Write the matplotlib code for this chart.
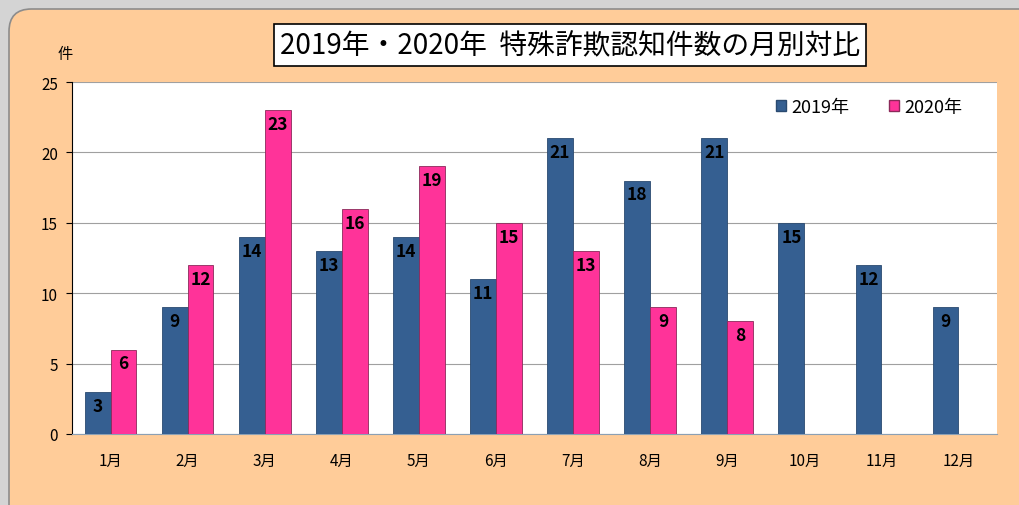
import matplotlib
matplotlib.use("Agg")
import matplotlib.pyplot as plt
from matplotlib.patches import FancyBboxPatch, Patch
import numpy as np

plt.rcParams['font.family'] = ['Noto Sans CJK JP', 'DejaVu Sans']

months = ['1月', '2月', '3月', '4月', '5月', '6月', '7月', '8月', '9月', '10月', '11月', '12月']
v2019 = [3, 9, 14, 13, 14, 11, 21, 18, 21, 15, 12, 9]
v2020 = [6, 12, 23, 16, 19, 15, 13, 9, 8]
yticks = [0, 5, 10, 15, 20, 25]
title = '2019年・2020年  特殊詐欺認知件数の月別対比'

c19 = '#355F91'
c20 = '#FF3399'
bg = '#FFCC99'

fig = plt.figure(figsize=(10.2, 5.06), dpi=100)
fig.patch.set_facecolor('#D4D4D4')

W, H = 1020, 506
box = FancyBboxPatch((9 / W, -0.05), 1.05, 1.05 - 10 / H,
                     boxstyle="round,pad=0,rounding_size=0.022",
                     transform=fig.transFigure, facecolor=bg,
                     edgecolor='#8C8C8C', linewidth=1.2, zorder=-10,
                     mutation_aspect=W / H)
fig.patches.append(box)

ax = fig.add_axes([72 / W, (506 - 435) / H, 925 / W, 352 / H])
ax.set_zorder(5)
ax.set_facecolor('white')
x = np.arange(len(months))
bw = 0.335
b1 = ax.bar(x[:len(v2019)] - bw / 2, v2019, bw, color=c19, edgecolor='#2A4A70', linewidth=0.6, zorder=3)
b2 = ax.bar(x[:len(v2020)] + bw / 2, v2020, bw, color=c20, edgecolor='#8B2A5A', linewidth=0.6, zorder=3)

for bars, vals in ((b1, v2019), (b2, v2020)):
    for r, v in zip(bars, vals):
        ax.text(r.get_x() + r.get_width() / 2, v - 0.35, str(v), ha='center', va='top',
                fontsize=12.5, fontweight='bold', color='black', zorder=4)

ax.set_xlim(-0.5, 11.5)
ax.set_ylim(0, 25)
ax.set_yticks(yticks)
ax.set_xticks(x)
ax.set_xticklabels(months)
ax.grid(axis='y', color='#A0A0A0', linewidth=0.8, zorder=0)
ax.set_axisbelow(True)
for s in ['top', 'right']:
    ax.spines[s].set_visible(False)
ax.spines['left'].set_color('black')
ax.spines['bottom'].set_color('#8CA0B4')
ax.tick_params(axis='y', length=4, labelsize=11, pad=6, color='black')
ax.tick_params(axis='x', length=0, labelsize=11, pad=13)

handles = [Patch(facecolor=c19, edgecolor='#2A4A70', label='2019年'),
           Patch(facecolor=c20, edgecolor='#8B2A5A', label='2020年')]
ax.legend(handles=handles, loc='upper right', bbox_to_anchor=(0.98, 1.0), ncol=2,
          frameon=False, fontsize=13, handlelength=0.55, handleheight=0.55,
          handletextpad=0.3, columnspacing=2.2)

fig.text(65 / W, 1 - 55 / H, '件', ha='center', va='center', fontsize=11)
fig.text(570 / W, 1 - 46 / H, title, ha='center', va='center', fontsize=20,
         bbox=dict(facecolor='white', edgecolor='black', linewidth=1.2, boxstyle='square,pad=0.2'))

fig.savefig('out.png', dpi=100, facecolor=fig.get_facecolor())
